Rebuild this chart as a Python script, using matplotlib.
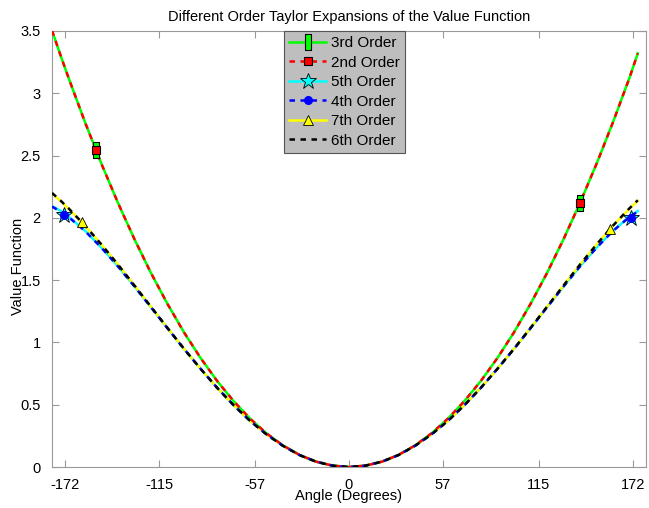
import matplotlib.pyplot as plt
from matplotlib.lines import Line2D
from matplotlib.path import Path

plt.rcParams['font.family'] = ['Liberation Sans', 'DejaVu Sans']

# angle samples (degrees)
angle = [-180, -175, -170, -160, -150, -140, -130, -120, -110, -100, -90, -80, -70,
         -60, -50, -40, -30, -20, -10, 0, 10, 20, 30, 40, 50, 60, 70, 80, 90, 100,
         110, 120, 130, 140, 150, 160, 170, 175]

order2 = [3.504, 3.312, 3.125, 2.768, 2.433, 2.120, 1.828, 1.557, 1.309, 1.081, 0.876,
          0.692, 0.530, 0.389, 0.270, 0.173, 0.097, 0.043, 0.011, 0.0, 0.011, 0.043,
          0.097, 0.173, 0.270, 0.389, 0.530, 0.692, 0.876, 1.081, 1.309, 1.557, 1.828,
          2.120, 2.433, 2.768, 3.125, 3.320]
order3 = [3.504, 3.312, 3.125, 2.768, 2.433, 2.120, 1.828, 1.557, 1.309, 1.081, 0.876,
          0.692, 0.530, 0.389, 0.270, 0.173, 0.097, 0.043, 0.011, 0.0, 0.011, 0.043,
          0.097, 0.173, 0.270, 0.389, 0.530, 0.692, 0.876, 1.081, 1.309, 1.557, 1.828,
          2.120, 2.433, 2.768, 3.125, 3.320]
order4 = [2.090, 2.053, 2.007, 1.895, 1.760, 1.610, 1.449, 1.282, 1.114, 0.948, 0.789,
          0.637, 0.497, 0.371, 0.262, 0.170, 0.096, 0.043, 0.011, 0.0, 0.011, 0.043,
          0.096, 0.170, 0.262, 0.371, 0.497, 0.637, 0.789, 0.948, 1.114, 1.282, 1.449,
          1.610, 1.760, 1.895, 2.007, 2.050]
order5 = [2.095, 2.058, 2.010, 1.897, 1.761, 1.611, 1.449, 1.282, 1.114, 0.948, 0.789,
          0.637, 0.497, 0.371, 0.262, 0.170, 0.096, 0.043, 0.011, 0.0, 0.011, 0.043,
          0.096, 0.170, 0.262, 0.371, 0.497, 0.637, 0.789, 0.948, 1.114, 1.282, 1.449,
          1.611, 1.761, 1.897, 2.010, 2.055]
order6 = [2.200, 2.141, 2.077, 1.938, 1.786, 1.625, 1.457, 1.286, 1.116, 0.949, 0.789,
          0.637, 0.497, 0.371, 0.262, 0.170, 0.096, 0.043, 0.011, 0.0, 0.011, 0.043,
          0.096, 0.170, 0.262, 0.371, 0.497, 0.637, 0.789, 0.949, 1.116, 1.286, 1.457,
          1.625, 1.786, 1.938, 2.077, 2.141]
order7 = [2.195, 2.137, 2.074, 1.937, 1.785, 1.625, 1.457, 1.286, 1.116, 0.949, 0.789,
          0.637, 0.497, 0.371, 0.262, 0.170, 0.096, 0.043, 0.011, 0.0, 0.011, 0.043,
          0.096, 0.170, 0.262, 0.371, 0.497, 0.637, 0.789, 0.949, 1.116, 1.286, 1.457,
          1.625, 1.785, 1.937, 2.074, 2.137]

# marker spots
mk23_x = [-153.5, 140]
mk23_y = [2.545, 2.12]
mk45_x = [-173, 171]
mk45_y = [2.02, 2.00]
mk7_x = [-162, 158]
mk7_y = [1.97, 1.91]

xticks = [-172, -115, -57, 0, 57, 115, 172]
yticks = [0, 0.5, 1, 1.5, 2, 2.5, 3, 3.5]
ytick_labels = ['0', '0.5', '1', '1.5', '2', '2.5', '3', '3.5']

rect = Path([(-0.4, -1), (0.4, -1), (0.4, 1), (-0.4, 1), (-0.4, -1)],
            [Path.MOVETO, Path.LINETO, Path.LINETO, Path.LINETO, Path.CLOSEPOLY])

fig = plt.figure(figsize=(6.49, 5.08), dpi=100)
ax = fig.add_axes([0.0801, 0.0807, 0.9153, 0.8583])

lw = 1.8
dash = (2.2, 2.2)
ax.plot(angle, order3, color='#00ff00', lw=lw, zorder=2)
ax.plot(angle, order2, color='#ff0000', lw=lw, dashes=dash, zorder=3)
ax.plot(angle, order5, color='#00ffff', lw=lw, zorder=2)
ax.plot(angle, order4, color='#0000ff', lw=lw, dashes=dash, zorder=3)
ax.plot(angle, order7, color='#ffff00', lw=lw, zorder=2)
ax.plot(angle, order6, color='black', lw=lw, dashes=dash, zorder=3)

ax.plot(mk23_x, mk23_y, ls='none', marker=rect, ms=12, mfc='#00ff00', mec='black', mew=0.8, zorder=5)
ax.plot(mk23_x, mk23_y, ls='none', marker='s', ms=6, mfc='#ff0000', mec='black', mew=0.8, zorder=6)
ax.plot(mk45_x, mk45_y, ls='none', marker='*', ms=12, mfc='#00ffff', mec='black', mew=0.6, zorder=5)
ax.plot(mk45_x, mk45_y, ls='none', marker='o', ms=5.5, mfc='#0000ff', mec='#0000ff', zorder=6)
ax.plot(mk7_x, mk7_y, ls='none', marker='^', ms=7, mfc='#ffff00', mec='black', mew=0.6, zorder=5)

handles = [
    Line2D([], [], color='#00ff00', lw=lw, marker=rect, ms=12, mfc='#00ff00', mec='black', mew=0.8),
    Line2D([], [], color='#ff0000', lw=lw, dashes=dash, marker='s', ms=6, mfc='#ff0000', mec='black', mew=0.8),
    Line2D([], [], color='#00ffff', lw=lw, marker='*', ms=12, mfc='#00ffff', mec='black', mew=0.6),
    Line2D([], [], color='#0000ff', lw=lw, dashes=dash, marker='o', ms=5.5, mfc='#0000ff', mec='#0000ff'),
    Line2D([], [], color='#ffff00', lw=lw, marker='^', ms=7, mfc='#ffff00', mec='black', mew=0.6),
    Line2D([], [], color='black', lw=lw, dashes=dash),
]
labels = ['3rd Order', '2nd Order', '5th Order', '4th Order', '7th Order', '6th Order']
leg = ax.legend(handles, labels, loc='upper center', bbox_to_anchor=(0.4924, 1.0),
                borderaxespad=0, fancybox=False, framealpha=1, facecolor='#bebebe',
                edgecolor='#555555', fontsize=11, handlelength=2.4, handletextpad=0.3,
                labelspacing=0.36, borderpad=0.35)
leg.get_frame().set_linewidth(0.8)

ax.set_xlim(-180, 180)
ax.set_ylim(0, 3.5)
ax.set_xticks(xticks)
ax.set_xticklabels([str(t) for t in xticks])
ax.set_yticks(yticks)
ax.set_yticklabels(ytick_labels)
ax.tick_params(direction='in', length=5, color='#999999', top=True, right=True,
               labelsize=10.5, pad=8)
for s in ax.spines.values():
    s.set_color('#999999')
    s.set_linewidth(0.8)

ax.set_title('Different Order Taylor Expansions of the Value Function', fontsize=10.5, pad=7)
ax.set_xlabel('Angle (Degrees)', fontsize=10.5)
ax.xaxis.set_label_coords(0.5, -0.05)
ax.set_ylabel('Value Function', fontsize=10.5)
ax.yaxis.set_label_coords(-0.045, 0.46)

fig.savefig('out.png', dpi=100)
